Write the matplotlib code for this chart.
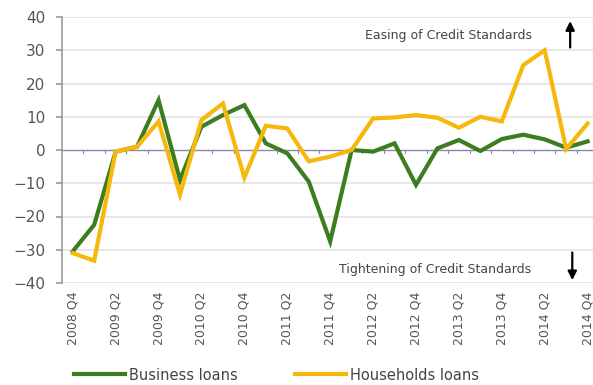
import matplotlib
matplotlib.use("Agg")
import matplotlib.pyplot as plt
import numpy as np

quarters = ["2008 Q4", "2009 Q1", "2009 Q2", "2009 Q3", "2009 Q4",
            "2010 Q1", "2010 Q2", "2010 Q3", "2010 Q4",
            "2011 Q1", "2011 Q2", "2011 Q3", "2011 Q4",
            "2012 Q1", "2012 Q2", "2012 Q3", "2012 Q4",
            "2013 Q1", "2013 Q2", "2013 Q3", "2013 Q4",
            "2014 Q1", "2014 Q2", "2014 Q3", "2014 Q4"]

business_loans = [-30.5, -22.5, -0.5, 1, 15, -9, 7, 10.5, 13.5,
                  2, -1, -9.5, -27.5, 0, -0.5, 2, -10.5, 0.5,
                  3, -0.3, 3.3, 4.6, 3.2, 0.7, 2.6]

households_loans = [-31, -33.3, -0.5, 1, 8.6, -13.4, 9, 14, -8.3,
                    7.3, 6.5, -3.4, -2, 0, 9.5, 9.8, 10.5, 9.7,
                    6.7, 10, 8.6, 25.5, 30, 0.3, 8]

legend_labels = ["Business loans", "Households loans"]

GREEN = "#3b7d1f"
YELLOW = "#f6b80c"
GRID = "#e3e3e3"
AXIS = "#9a9a9a"
TEXT = "#555555"

plt.rcParams["font.family"] = ["DejaVu Sans"]

fig = plt.figure(figsize=(5.93, 3.85), dpi=100)
ax = fig.add_axes([62 / 593, 1 - 283 / 385, 1 - 62 / 593, (283 - 17) / 385])

x = np.arange(len(quarters))
ax.set_xlim(-0.5, 24.25)
ax.set_ylim(-40, 40)

for v in range(-40, 41, 10):
    if v != 0:
        ax.axhline(v, color=GRID, lw=1.2, zorder=0)

# zero line acts as the category axis, with ticks between categories
ax.axhline(0, color="#8a87a8", lw=1.0, zorder=1)
for b in np.arange(0.5, 24.5, 1):
    ax.plot([b, b], [0, -0.9], color="#8a87a8", lw=0.8, zorder=1)

l1, = ax.plot(x, business_loans, color=GREEN, lw=3.0, zorder=2,
              solid_joinstyle="miter")
l2, = ax.plot(x, households_loans, color=YELLOW, lw=3.0, zorder=3,
              solid_joinstyle="miter")

for s in ["top", "right", "bottom"]:
    ax.spines[s].set_visible(False)
ax.spines["left"].set_color(AXIS)
ax.spines["left"].set_linewidth(1.2)

ax.set_yticks(range(-40, 41, 10))
ax.tick_params(axis="y", colors=AXIS, labelcolor=TEXT, labelsize=11,
               length=4, width=1.2, pad=8)

ax.set_xticks(x[::2])
ax.set_xticklabels(quarters[::2], rotation=90, fontsize=9, color=TEXT)
ax.tick_params(axis="x", length=0, pad=6)

ax.text(0.728, 0.93, "Easing of Credit Standards", transform=ax.transAxes,
        fontsize=9, color="#444444", ha="center", va="center")
ax.text(0.703, 0.05, "Tightening of Credit Standards", transform=ax.transAxes,
        fontsize=9, color="#444444", ha="center", va="center")

ax.annotate("", xy=(0.957, 0.995), xytext=(0.957, 0.875),
            xycoords="axes fraction",
            arrowprops=dict(arrowstyle="-|>", color="black", lw=1.6,
                            mutation_scale=13))
ax.annotate("", xy=(0.961, 0.0), xytext=(0.961, 0.125),
            xycoords="axes fraction",
            arrowprops=dict(arrowstyle="-|>", color="black", lw=1.6,
                            mutation_scale=13))

fig.legend([l1, l2], legend_labels, loc="center", ncol=2,
           bbox_to_anchor=(0.466, 1 - 375 / 385), frameon=False,
           fontsize=10.5, labelcolor="#444444", handlelength=3.5,
           columnspacing=3.9, handletextpad=0.3)

fig.savefig("out.png", dpi=100)
